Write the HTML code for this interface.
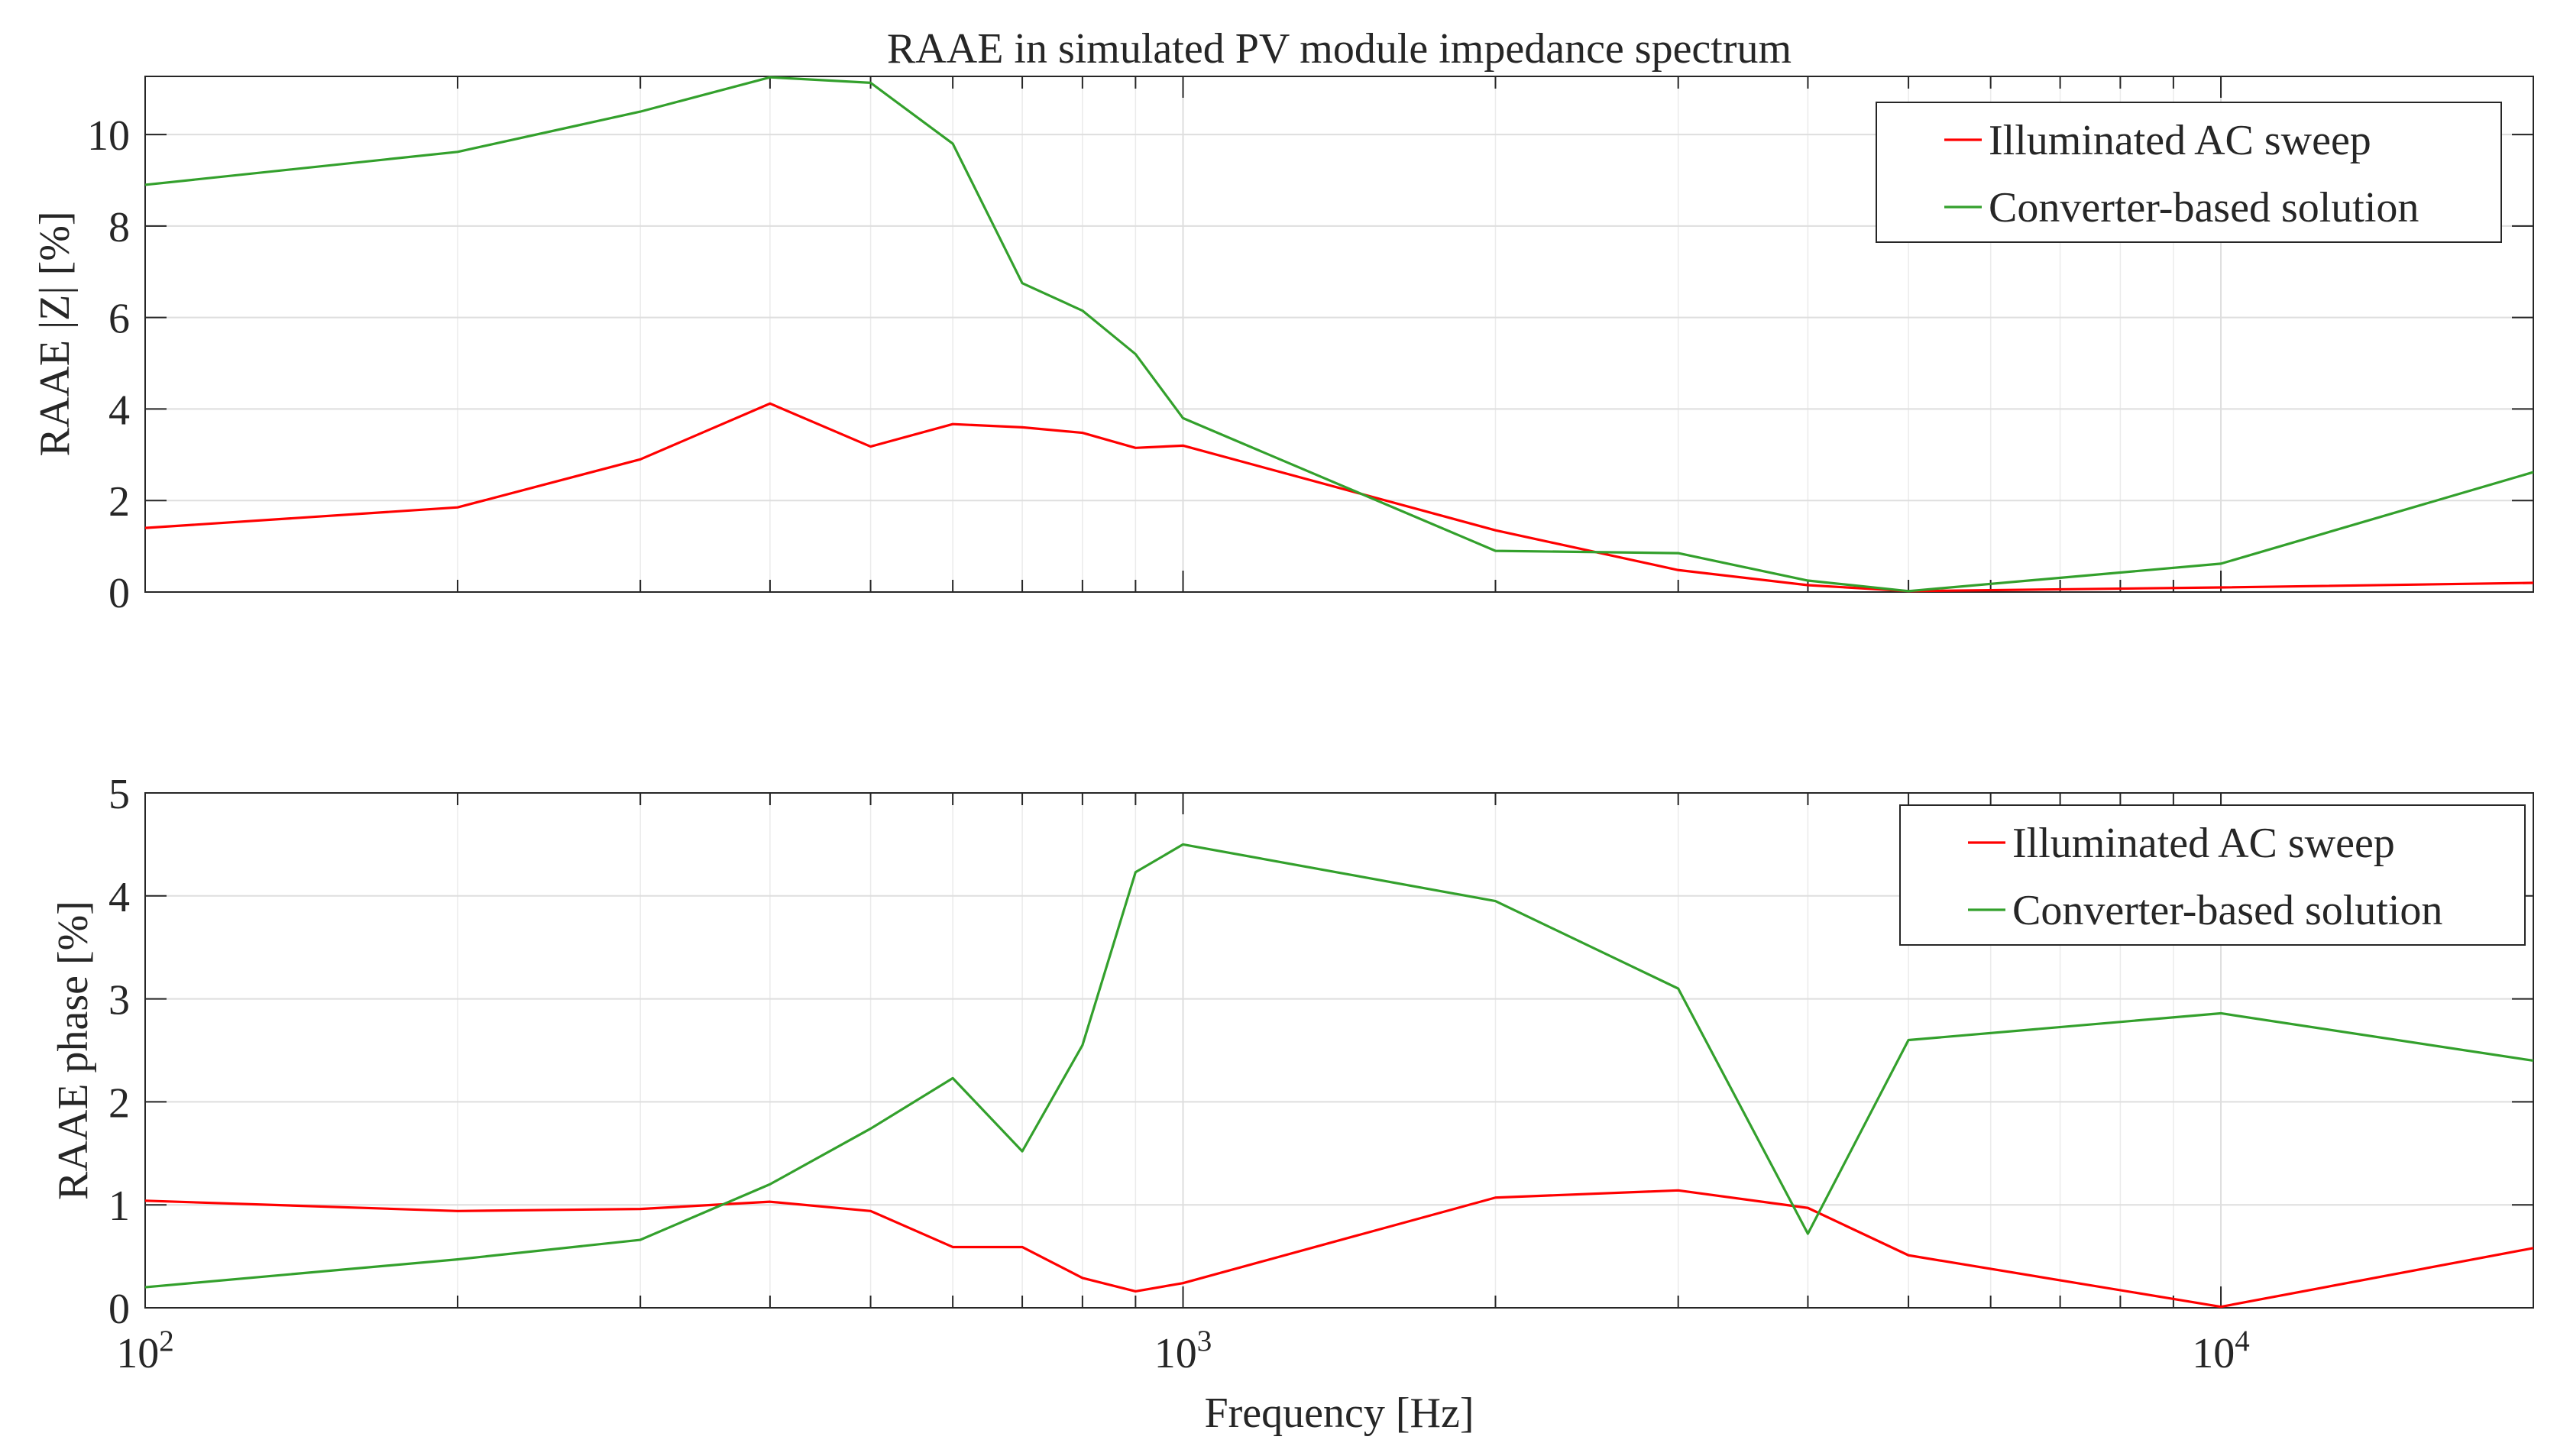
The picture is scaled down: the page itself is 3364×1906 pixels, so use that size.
<!DOCTYPE html>
<html><head><meta charset="utf-8"><style>
html,body{margin:0;padding:0;background:#fff;}
svg{display:block;font-family:"Liberation Serif",serif;}
</style></head><body>
<svg id="chart" width="3364" height="1906" viewBox="0 0 3364 1906" xmlns="http://www.w3.org/2000/svg">
<rect width="3364" height="1906" fill="#fff"/>
<text x="1753" y="82" font-size="56" text-anchor="middle" fill="#262626">RAAE in simulated PV module impedance spectrum</text>
<text x="1753" y="1868" font-size="56" text-anchor="middle" fill="#262626">Frequency [Hz]</text>
<text transform="translate(90,437) rotate(-90)" font-size="56" text-anchor="middle" fill="#262626">RAAE |Z| [%]</text>
<text transform="translate(114,1375) rotate(-90)" font-size="56" text-anchor="middle" fill="#262626">RAAE phase [%]</text>
<g id="g"></g>
</svg>
<script>
const freqs = [100,200,300,400,500,600,700,800,900,1000,2000,3000,4000,5000,10000,20000];
const zIllum = [1.4,1.85,2.9,4.12,3.18,3.67,3.6,3.48,3.15,3.2,1.35,0.48,0.15,0.02,0.1,0.2];
const zConv = [8.9,9.62,10.5,11.25,11.13,9.8,6.75,6.15,5.2,3.8,0.9,0.85,0.25,0.02,0.62,2.62];
const pIllum = [1.04,0.94,0.96,1.03,0.94,0.59,0.59,0.29,0.16,0.24,1.07,1.14,0.97,0.51,0.01,0.58];
const pConv = [0.2,0.47,0.66,1.2,1.74,2.23,1.52,2.55,4.23,4.5,3.95,3.1,0.72,2.6,2.86,2.4];
const zTicks = [0,2,4,6,8,10];
const pTicks = [0,1,2,3,4,5];
const xMajor = [100,1000,10000];
const xMajorLabels = ["2","3","4"];
const seriesNames = ["Illuminated AC sweep","Converter-based solution"];

const NS="http://www.w3.org/2000/svg";
const g=document.getElementById('g');
const L=190,R=3316;
function xs(f){return L+(Math.log10(f)-2)/(Math.log10(20000)-2)*(R-L);}
function mk(tag,attrs,parent){const e=document.createElementNS(NS,tag);for(const k in attrs)e.setAttribute(k,attrs[k]);(parent||g).appendChild(e);return e;}
const minors=[];
for(let d=100;d<=10000;d*=10)for(let m=2;m<=9;m++){if(d*m<=20000)minors.push(d*m);}
minors.push(20000);

function panel(name,top,bot,ymax,ticks,s1,s2,legTop,showX){
  const ys=v=>bot-(v/ymax)*(bot-top);
  minors.forEach(f=>{const l=mk('line',{x1:xs(f),x2:xs(f),y1:top,y2:bot,stroke:'#ebebeb','stroke-width':1.5});
    });
  xMajor.forEach(f=>{const l=mk('line',{x1:xs(f),x2:xs(f),y1:top,y2:bot,stroke:'#dedede','stroke-width':2});
    });
  ticks.forEach(t=>{const l=mk('line',{x1:L,x2:R,y1:ys(t),y2:ys(t),stroke:'#dedede','stroke-width':2});
    
    mk('line',{x1:L,x2:L+28,y1:ys(t),y2:ys(t),stroke:'#262626','stroke-width':2});
    mk('line',{x1:R,x2:R-28,y1:ys(t),y2:ys(t),stroke:'#262626','stroke-width':2});
    const tx=mk('text',{x:170,y:ys(t)+20,'font-size':56,'text-anchor':'end',fill:'#262626'});tx.textContent=t;
    });
  minors.forEach(f=>{mk('line',{x1:xs(f),x2:xs(f),y1:bot,y2:bot-16,stroke:'#262626','stroke-width':2});mk('line',{x1:xs(f),x2:xs(f),y1:top,y2:top+16,stroke:'#262626','stroke-width':2});});
  xMajor.forEach((f,i)=>{mk('line',{x1:xs(f),x2:xs(f),y1:bot,y2:bot-28,stroke:'#262626','stroke-width':2});mk('line',{x1:xs(f),x2:xs(f),y1:top,y2:top+28,stroke:'#262626','stroke-width':2});
    if(showX){const tx=mk('text',{x:xs(f),y:1790,'font-size':56,'text-anchor':'middle',fill:'#262626'});
      
      tx.textContent='10';const ts=mk('tspan',{dy:-22,'font-size':39},tx);ts.textContent=xMajorLabels[i];}});
  const box=mk('rect',{x:L,y:top,width:R-L,height:bot-top,fill:'none',stroke:'#262626','stroke-width':2});
  
  [[s1,'#ff0000','illuminated-ac-sweep-line'],[s2,'#33a02c','converter-based-solution-line']].forEach(([d,c,n])=>{
    const p=mk('polyline',{points:freqs.map((f,i)=>xs(f)+','+ys(d[i])).join(' '),fill:'none',stroke:c,'stroke-width':3.2,'stroke-linejoin':'round'});
    });
  const lx= name==='top'?2456:2487, lw=818;
  const lg=mk('g',{});
  mk('rect',{x:lx,y:legTop,width:lw,height:183,fill:'#fff',stroke:'#262626','stroke-width':2},lg);
  ['#ff0000','#33a02c'].forEach((c,i)=>{const cy=legTop+49+i*88;
    const e=mk('g',{},lg);
    mk('line',{x1:lx+89,x2:lx+138,y1:cy,y2:cy,stroke:c,'stroke-width':3.2},e);
    const t=mk('text',{x:lx+147,y:cy+19,'font-size':56,fill:'#262626'},e);t.textContent=seriesNames[i];});
}
panel('top',100,775,11.27,zTicks,zIllum,zConv,134,false);
panel('bottom',1038,1712,5,pTicks,pIllum,pConv,1054,true);
</script>
</body></html>
